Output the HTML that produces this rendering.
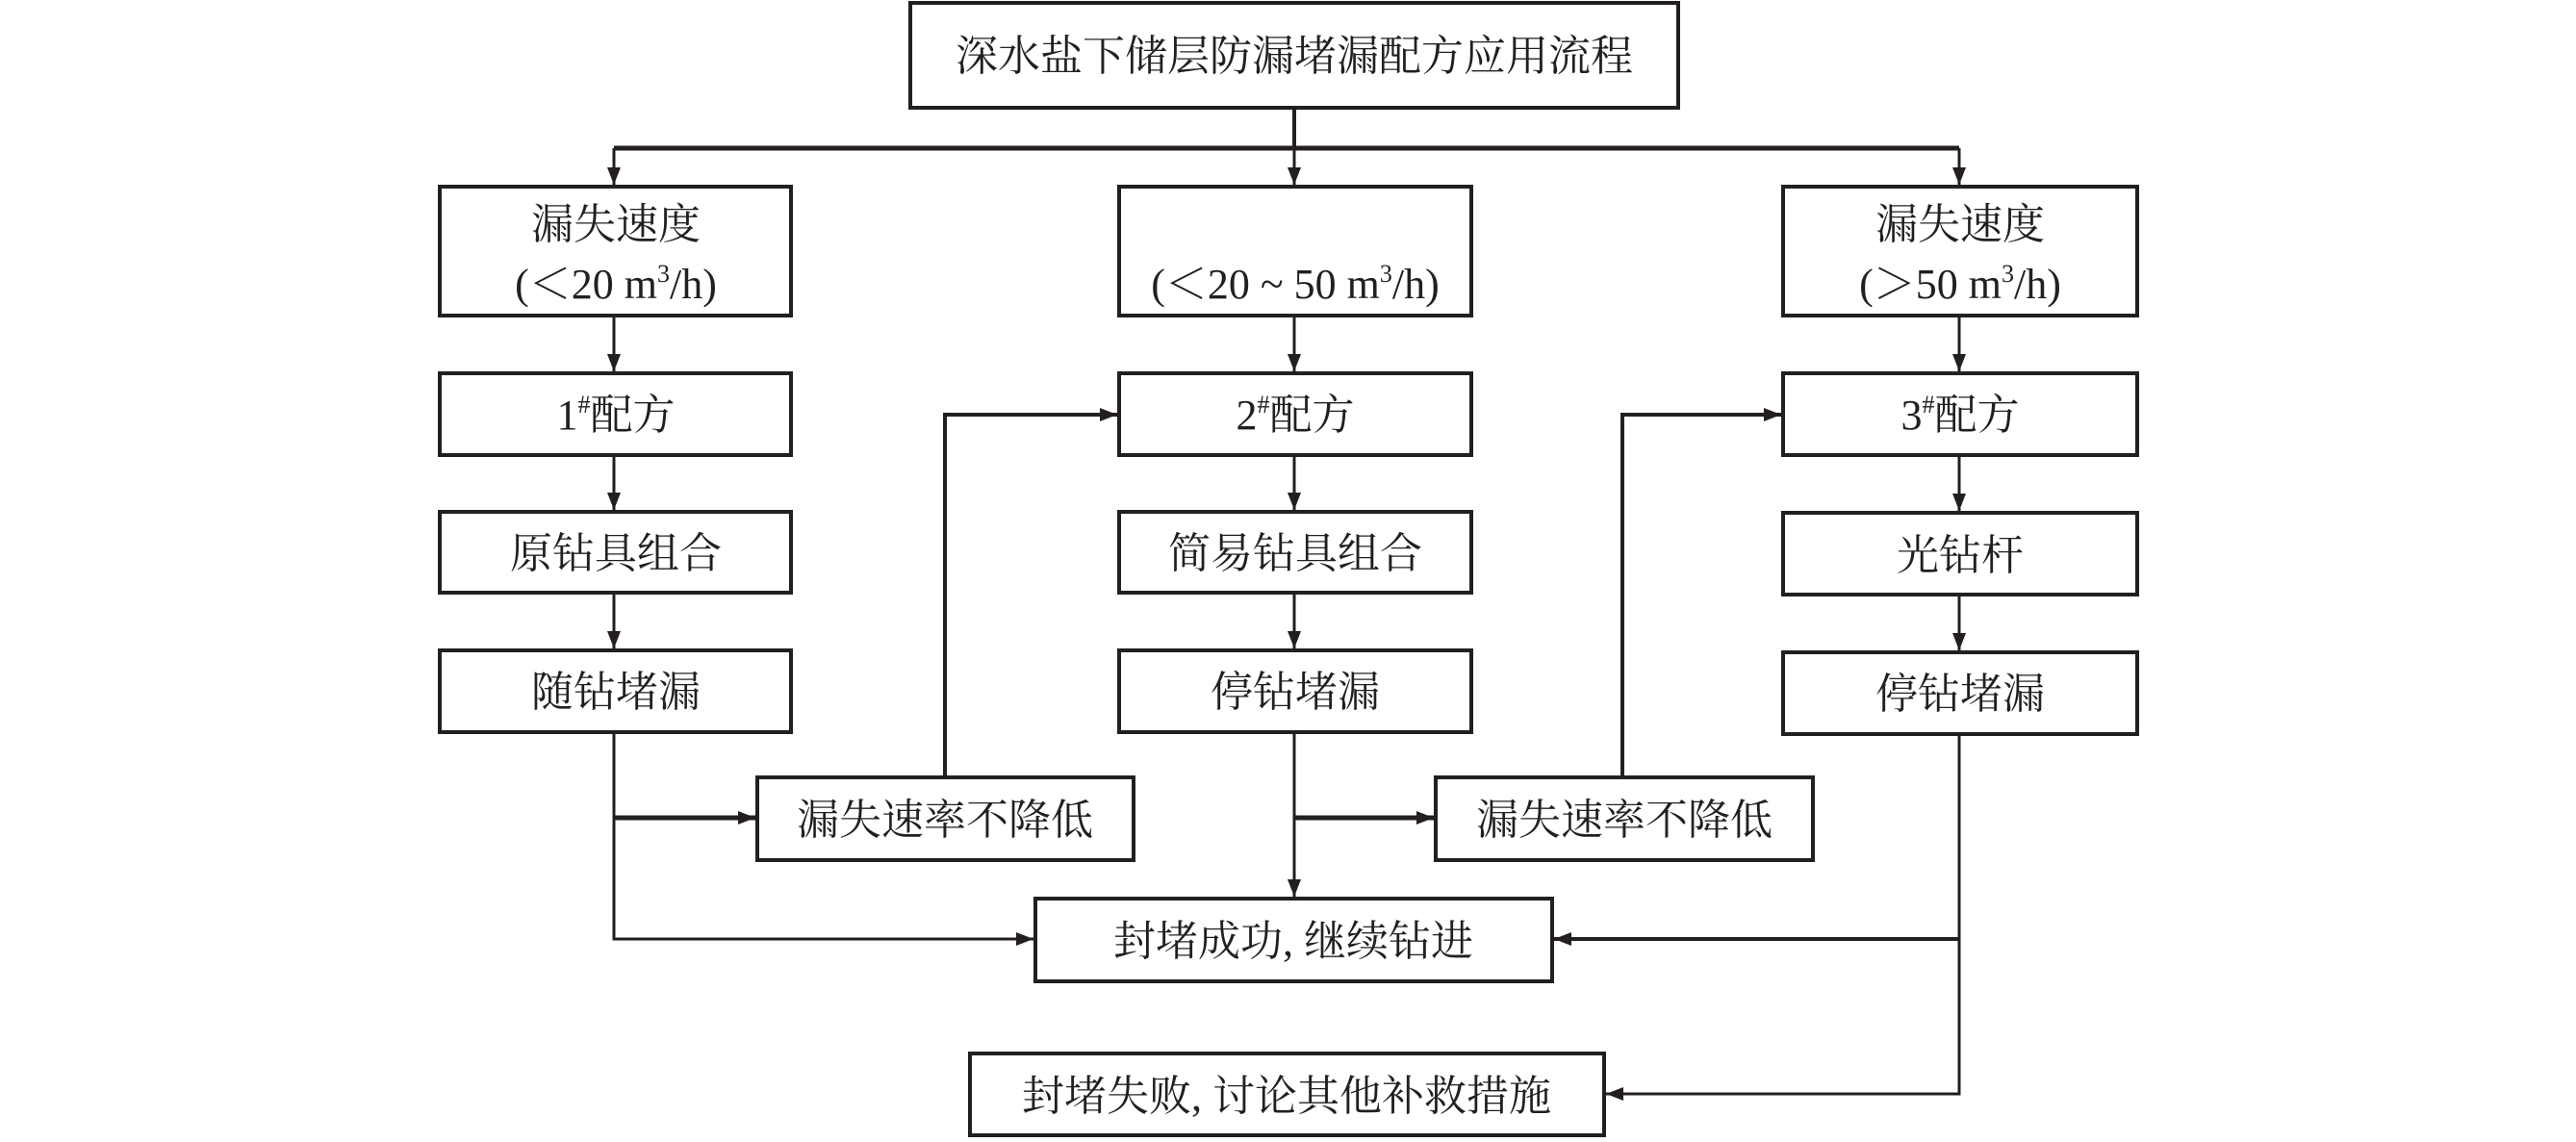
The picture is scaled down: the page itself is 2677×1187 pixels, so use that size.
<!DOCTYPE html>
<html><head><meta charset="utf-8"><style>
html,body{margin:0;padding:0;background:#fff;}
svg text{font-family:"Liberation Serif","Noto Serif CJK SC",serif;font-size:44px;fill:#231f20;text-anchor:middle;}
</style></head><body>
<svg width="2677" height="1182" viewBox="0 0 2677 1182" xmlns="http://www.w3.org/2000/svg">
<defs>
<marker id="a" viewBox="0 0 10 10" refX="10" refY="5" markerWidth="18" markerHeight="14" markerUnits="userSpaceOnUse" orient="auto" preserveAspectRatio="none">
<path d="M0,0 L10,5 L0,10 Z" fill="#231f20"/></marker>
<marker id="b" viewBox="0 0 10 10" refX="10" refY="5" markerWidth="18" markerHeight="14" markerUnits="userSpaceOnUse" orient="auto" preserveAspectRatio="none">
<path d="M0,0 L10,5 L0,10 Z" fill="#231f20"/></marker>
</defs>
<g fill="none" stroke="#231f20" stroke-width="4">
<rect x="946" y="3" width="798" height="109"/>
<rect x="457" y="194" width="365" height="134"/>
<rect x="1163" y="194" width="366" height="134"/>
<rect x="1853" y="194" width="368" height="134"/>
<rect x="457" y="388" width="365" height="85"/>
<rect x="1163" y="388" width="366" height="85"/>
<rect x="1853" y="388" width="368" height="85"/>
<rect x="457" y="532" width="365" height="84"/>
<rect x="1163" y="532" width="366" height="84"/>
<rect x="1853" y="533" width="368" height="85"/>
<rect x="457" y="676" width="365" height="85"/>
<rect x="1163" y="676" width="366" height="85"/>
<rect x="1853" y="678" width="368" height="85"/>
<rect x="787" y="808" width="391" height="86"/>
<rect x="1492" y="808" width="392" height="86"/>
<rect x="1076" y="934" width="537" height="86"/>
<rect x="1008" y="1095" width="659" height="85"/>
</g>
<g fill="none" stroke="#231f20" stroke-width="3">
<line x1="1345" y1="112" x2="1345" y2="154" stroke-width="4"/>
<line x1="638" y1="154" x2="2036" y2="154" stroke-width="5"/>
<line x1="638" y1="154" x2="638" y2="192" marker-end="url(#a)"/>
<line x1="1345" y1="154" x2="1345" y2="192" marker-end="url(#a)"/>
<line x1="2036" y1="154" x2="2036" y2="192" marker-end="url(#a)"/>
<line x1="638" y1="328" x2="638" y2="386" marker-end="url(#a)"/>
<line x1="1345" y1="328" x2="1345" y2="386" marker-end="url(#a)"/>
<line x1="2036" y1="328" x2="2036" y2="386" marker-end="url(#a)"/>
<line x1="638" y1="473" x2="638" y2="530" marker-end="url(#a)"/>
<line x1="1345" y1="473" x2="1345" y2="530" marker-end="url(#a)"/>
<line x1="2036" y1="473" x2="2036" y2="531" marker-end="url(#a)"/>
<line x1="638" y1="616" x2="638" y2="674" marker-end="url(#a)"/>
<line x1="1345" y1="616" x2="1345" y2="674" marker-end="url(#a)"/>
<line x1="2036" y1="618" x2="2036" y2="676" marker-end="url(#a)"/>
<polyline points="638,761 638,976 1074,976" marker-end="url(#a)"/>
<line x1="638" y1="850" x2="785" y2="850" stroke-width="5" marker-end="url(#b)"/>
<line x1="1345" y1="761" x2="1345" y2="932" marker-end="url(#a)"/>
<line x1="1345" y1="850" x2="1490" y2="850" stroke-width="5" marker-end="url(#b)"/>
<polyline points="982,808 982,431 1161,431" stroke-width="4" marker-end="url(#b)"/>
<polyline points="1686,808 1686,431 1851,431" stroke-width="4" marker-end="url(#b)"/>
<polyline points="2036,763 2036,1137 1669,1137" marker-end="url(#a)"/>
<line x1="2036" y1="976" x2="1615" y2="976" stroke-width="4" marker-end="url(#b)"/>
</g>
<text x="1345" y="73">深水盐下储层防漏堵漏配方应用流程</text>
<text x="640" y="248">漏失速度</text>
<text x="640" y="310">(＜20 m<tspan font-size="26" dy="-17">3</tspan><tspan dy="17">/h)</tspan></text>
<text x="1346" y="310">(＜20 ~ 50 m<tspan font-size="26" dy="-17">3</tspan><tspan dy="17">/h)</tspan></text>
<text x="2037" y="248">漏失速度</text>
<text x="2037" y="310">(＞50 m<tspan font-size="26" dy="-17">3</tspan><tspan dy="17">/h)</tspan></text>
<text x="640" y="446">1<tspan font-size="26" dy="-17">#</tspan><tspan dy="17">配方</tspan></text>
<text x="1346" y="446">2<tspan font-size="26" dy="-17">#</tspan><tspan dy="17">配方</tspan></text>
<text x="2037" y="446">3<tspan font-size="26" dy="-17">#</tspan><tspan dy="17">配方</tspan></text>
<text x="640" y="590">原钻具组合</text>
<text x="1346" y="590">简易钻具组合</text>
<text x="2037" y="592">光钻杆</text>
<text x="640" y="734">随钻堵漏</text>
<text x="1346" y="734">停钻堵漏</text>
<text x="2037" y="736">停钻堵漏</text>
<text x="982" y="867">漏失速率不降低</text>
<text x="1688" y="867">漏失速率不降低</text>
<text x="1344" y="993">封堵成功, 继续钻进</text>
<text x="1337" y="1154">封堵失败, 讨论其他补救措施</text>
</svg>
</body></html>
